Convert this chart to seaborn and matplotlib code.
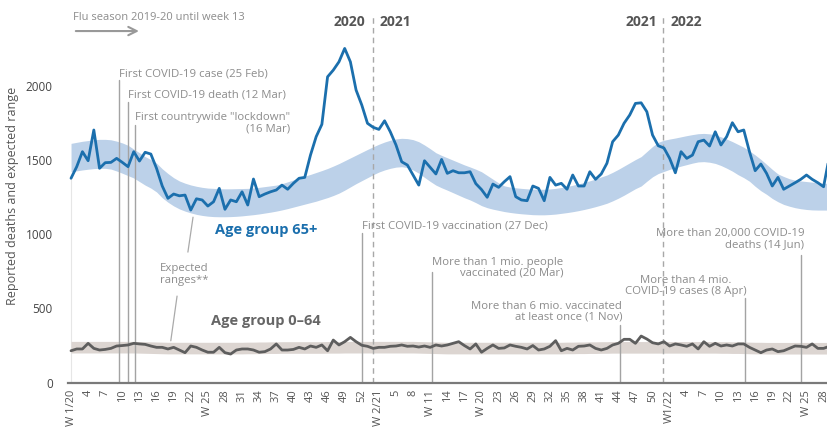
import numpy as np
import pandas as pd
import matplotlib
matplotlib.use("Agg")
import matplotlib.pyplot as plt
import seaborn as sns

# weekly index: 0 = W1/2020, 53 = W1/2021, 105 = W1/2022
deaths_65 = [
    1376, 1454, 1555, 1494, 1701, 1443, 1481, 1483, 1510, 1483,
    1454, 1555, 1492, 1551, 1539, 1443, 1324, 1241, 1270, 1258,
    1263, 1162, 1238, 1230, 1189, 1218, 1308, 1167, 1230, 1218,
    1285, 1196, 1371, 1252, 1270, 1285, 1297, 1330, 1302, 1342,
    1376, 1382, 1532, 1656, 1739, 2059, 2104, 2160, 2250, 2160,
    1970, 1869, 1746, 1719, 1705, 1763, 1689, 1600, 1487, 1465,
    1398, 1330, 1494, 1450, 1405, 1503, 1409, 1427, 1413, 1413,
    1420, 1340, 1300, 1248, 1337, 1315, 1353, 1387, 1252, 1230,
    1225, 1324, 1308, 1225, 1382, 1330, 1342, 1302, 1398, 1324,
    1324, 1420, 1369, 1405, 1477, 1622, 1667, 1746, 1802, 1880,
    1884, 1824, 1667, 1595, 1580, 1510, 1413, 1555, 1510, 1532,
    1622, 1633, 1593, 1689, 1600, 1656, 1750, 1689, 1701, 1555,
    1427, 1472, 1409, 1324, 1382, 1302, 1324, 1346, 1369, 1398,
    1369, 1346, 1319, 1520,
]
exp65_upper = [
    1611, 1618, 1625, 1630, 1635, 1638, 1638, 1635, 1626, 1614,
    1598, 1572, 1548, 1522, 1502, 1478, 1440, 1408, 1380, 1358,
    1343, 1331, 1322, 1315, 1310, 1308, 1306, 1305, 1305, 1306,
    1307, 1308, 1311, 1315, 1320, 1325, 1330, 1340, 1352, 1365,
    1378, 1390, 1402, 1415, 1428, 1442, 1458, 1475, 1494, 1513,
    1532, 1551, 1570, 1588, 1605, 1620, 1632, 1641, 1645, 1643,
    1636, 1622, 1600, 1575, 1548, 1530, 1514, 1498, 1482, 1466,
    1452, 1437, 1420, 1395, 1370, 1345, 1325, 1317, 1312, 1308,
    1305, 1303, 1302, 1302, 1304, 1308, 1314, 1321, 1329, 1338,
    1348, 1359, 1371, 1385, 1398, 1416, 1436, 1458, 1480, 1502,
    1522, 1556, 1590, 1618, 1632, 1640, 1647, 1655, 1663, 1670,
    1676, 1678, 1675, 1668, 1655, 1640, 1623, 1604, 1585, 1560,
    1533, 1503, 1470, 1436, 1405, 1388, 1373, 1363, 1358, 1354,
    1350, 1346, 1343, 1341,
]
exp65_lower = [
    1420, 1426, 1432, 1437, 1441, 1443, 1443, 1438, 1425, 1410,
    1394, 1378, 1354, 1330, 1310, 1284, 1245, 1215, 1190, 1170,
    1155, 1143, 1133, 1126, 1121, 1118, 1117, 1117, 1118, 1120,
    1123, 1127, 1131, 1136, 1142, 1148, 1155, 1163, 1172, 1182,
    1192, 1202, 1212, 1222, 1234, 1246, 1260, 1276, 1296, 1318,
    1340, 1360, 1380, 1400, 1418, 1432, 1443, 1451, 1454, 1448,
    1432, 1410, 1382, 1355, 1330, 1312, 1296, 1279, 1262, 1245,
    1230, 1212, 1192, 1178, 1168, 1160, 1152, 1146, 1141, 1137,
    1134, 1131, 1130, 1130, 1132, 1135, 1140, 1145, 1151, 1158,
    1166, 1175, 1185, 1196, 1208, 1224, 1242, 1262, 1284, 1306,
    1324, 1356, 1386, 1408, 1422, 1436, 1447, 1458, 1468, 1478,
    1486, 1488, 1484, 1476, 1462, 1444, 1424, 1400, 1380, 1356,
    1322, 1292, 1268, 1240, 1218, 1200, 1188, 1178, 1171, 1166,
    1163, 1162, 1162, 1162,
]
deaths_0_64 = [
    215, 227, 227, 265, 231, 220, 224, 231, 247, 250,
    254, 265, 261, 258, 247, 238, 238, 227, 238, 220,
    202, 247, 238, 220, 205, 205, 238, 202, 193, 220,
    227, 227, 220, 205, 209, 227, 261, 220, 220, 224,
    238, 227, 247, 238, 254, 215, 287, 254, 276, 305,
    276, 252, 245, 231, 238, 238, 245, 247, 254, 245,
    247, 240, 247, 238, 254, 247, 254, 265, 276, 250,
    227, 261, 205, 231, 254, 231, 234, 254, 245, 238,
    227, 250, 220, 227, 245, 283, 215, 231, 220, 245,
    247, 254, 231, 220, 231, 254, 265, 292, 292, 265,
    314, 294, 269, 261, 276, 247, 261, 254, 245, 261,
    227, 276, 245, 265, 247, 254, 247, 261, 261, 238,
    220, 202, 220, 227, 209, 215, 231, 247, 245, 238,
    261, 231, 231, 245,
]
exp064_upper = [
    278, 278, 278, 278, 278, 278, 278, 278, 278, 278,
    278, 278, 277, 276, 275, 274, 273, 272, 272, 272,
    272, 272, 272, 272, 272, 272, 272, 272, 272, 272,
    272, 273, 273, 274, 274, 275, 275, 276, 276, 276,
    276, 276, 276, 276, 276, 277, 277, 277, 278, 278,
    278, 278, 278, 278, 278, 278, 278, 278, 278, 278,
    278, 277, 276, 275, 274, 273, 272, 272, 272, 272,
    272, 272, 272, 272, 272, 272, 272, 272, 272, 272,
    272, 272, 272, 272, 272, 272, 272, 273, 273, 274,
    274, 275, 275, 276, 276, 277, 277, 277, 277, 277,
    277, 277, 277, 277, 277, 277, 277, 277, 277, 277,
    277, 277, 277, 277, 276, 276, 275, 275, 274, 273,
    272, 272, 271, 271, 271, 271, 271, 271, 271, 271,
    271, 271, 271, 271,
]
exp064_lower = [
    200, 200, 200, 200, 200, 200, 200, 200, 200, 200,
    200, 200, 199, 198, 197, 196, 195, 194, 194, 194,
    194, 194, 194, 194, 194, 194, 194, 194, 194, 194,
    194, 195, 195, 196, 196, 197, 197, 198, 198, 198,
    198, 198, 198, 198, 198, 199, 199, 199, 200, 200,
    200, 200, 200, 200, 200, 200, 200, 200, 200, 200,
    200, 199, 198, 197, 196, 195, 194, 194, 194, 194,
    194, 194, 194, 194, 194, 194, 194, 194, 194, 194,
    194, 194, 194, 194, 194, 194, 194, 195, 195, 196,
    196, 197, 197, 198, 198, 199, 199, 199, 199, 199,
    199, 199, 199, 199, 199, 199, 199, 199, 199, 199,
    199, 199, 199, 199, 198, 198, 197, 197, 196, 195,
    194, 194, 193, 193, 193, 193, 193, 193, 193, 193,
    193, 193, 193, 193,
]
tick_labels = [
    "W 1/20", "4", "7", "10", "13", "16", "19", "22", "W 25", "28", "31",
    "34", "37", "40", "43", "46", "49", "52",
    "W 2/21", "5", "8", "W 11", "14", "17", "W 20", "23", "26", "29", "32",
    "35", "38", "41", "44", "47", "50",
    "W1/22", "4", "7", "10", "13", "16", "19", "22", "W 25", "28",
]

df = pd.DataFrame({
    "week": np.arange(len(deaths_65)),
    "d65": deaths_65, "u65": exp65_upper, "l65": exp65_lower,
    "d064": deaths_0_64, "u064": exp064_upper, "l064": exp064_lower,
})

sns.set_theme(style="white")
plt.rcParams["font.family"] = ["Open Sans", "DejaVu Sans"]

BLUE = "#1b6fad"
GREY_TXT = "#8c8c8c"
EV_LINE = "#a3a3a3"

fig = plt.figure(figsize=(8.27, 4.29), dpi=100)
ax = fig.add_axes([68 / 827, 46.3 / 429, 1 - 68 / 827, 1 - 46.3 / 429])

# expected ranges
ax.fill_between(df["week"], df["l65"], df["u65"], color="#bcd1e9", lw=0, zorder=1)
ax.fill_between(df["week"], df["l064"], df["u064"], color="#dcd5d1", lw=0, zorder=1)

# event lines
events = [
    (8.4, 2040), (10.0, 1891), (11.2, 1735), (51.05, 1008),
    (63.3, 748), (96.3, 386), (118.2, 568), (128.0, 859),
]
for ex, top in events:
    ax.plot([ex, ex], [0, top], color=EV_LINE, lw=1.0, zorder=2)
ax.plot([0, 0], [0, 1376], color="#e6e6e6", lw=0.8, zorder=0)

# year change lines
for yx in (52.9, 103.9):
    ax.plot([yx, yx], [0, 2462], color="#a8a8a8", lw=1.0, ls=(0, (4, 3)), zorder=2)

sns.lineplot(data=df, x="week", y="d65", ax=ax, color=BLUE, lw=2.0, zorder=4)
sns.lineplot(data=df, x="week", y="d064", ax=ax, color="#5e5e5e", lw=2.0, zorder=4)

ax.set_xlim(-0.53, 132.6)
ax.set_ylim(0, 2576)
ax.set_xticks(np.arange(0, 133, 3))
ax.set_xticklabels(tick_labels, rotation=90, fontsize=8, color="#555555")
ax.set_yticks([0, 500, 1000, 1500, 2000])
ax.set_yticklabels(["0", "500", "1000", "1500", "2000"], fontsize=8.5, color="#444444")
ax.tick_params(axis="both", length=0)
ax.tick_params(axis="y", pad=11)
ax.tick_params(axis="x", pad=5)
ax.set_xlabel("")
ax.set_ylabel("")
for s in ("top", "right", "left"):
    ax.spines[s].set_visible(False)
ax.spines["bottom"].set_color("#7a7a7a")
ax.spines["bottom"].set_linewidth(1.6)
ax.set_facecolor("white")

fig.text(13 / 827, 1 - 196 / 429, "Reported deaths and expected range", rotation=90,
         ha="center", va="center", fontsize=9, color="#555555")

# header
ax.text(0.35, 2455, "Flu season 2019-20 until week 13", fontsize=8, color=GREY_TXT,
        ha="left", va="center")
ax.annotate("", xy=(12.4, 2367), xytext=(0.35, 2367),
            arrowprops=dict(arrowstyle="->,head_length=0.5,head_width=0.25",
                            color="#999999", lw=1.5))
ax.text(51.7, 2428, "2020", fontsize=10, fontweight="bold", color="#555555", ha="right", va="center")
ax.text(54.2, 2428, "2021", fontsize=10, fontweight="bold", color="#555555", ha="left", va="center")
ax.text(102.8, 2428, "2021", fontsize=10, fontweight="bold", color="#555555", ha="right", va="center")
ax.text(105.1, 2428, "2022", fontsize=10, fontweight="bold", color="#555555", ha="left", va="center")

# annotations
ax.text(8.4, 2077, "First COVID-19 case (25 Feb)", fontsize=8.2, color=GREY_TXT, ha="left", va="center")
ax.text(10.0, 1936, "First COVID-19 death (12 Mar)", fontsize=8.2, color=GREY_TXT, ha="left", va="center")
ax.text(11.2, 1745, "First countrywide \"lockdown\"\n(16 Mar)", fontsize=8.2, color=GREY_TXT,
        ha="left", va="center", multialignment="right", linespacing=1.0)
ax.text(51.05, 1057, "First COVID-19 vaccination (27 Dec)", fontsize=8.2, color=GREY_TXT,
        ha="left", va="center")
ax.text(63.3, 773, "More than 1 mio. people\nvaccinated (20 Mar)", fontsize=8.2, color=GREY_TXT,
        ha="left", va="center", multialignment="right", linespacing=1.0)
ax.text(96.7, 479, "More than 6 mio. vaccinated\nat least once (1 Nov)", fontsize=8.2, color=GREY_TXT,
        ha="right", va="center", multialignment="right", linespacing=1.0)
ax.text(118.5, 654, "More than 4 mio.\nCOVID-19 cases (8 Apr)", fontsize=8.2, color=GREY_TXT,
        ha="right", va="center", multialignment="center", linespacing=1.0)
ax.text(128.6, 967, "More than 20,000 COVID-19\ndeaths (14 Jun)", fontsize=8.2, color=GREY_TXT,
        ha="right", va="center", multialignment="right", linespacing=1.0)

ax.text(25.3, 1026, "Age group 65+", fontsize=10.5, fontweight="bold", color=BLUE,
        ha="left", va="center")
ax.text(24.6, 416, "Age group 0\u201364", fontsize=10.5, fontweight="bold", color="#666666",
        ha="left", va="center")

ax.text(15.6, 728, "Expected\nranges**", fontsize=8.2, color=GREY_TXT, ha="left", va="center",
        linespacing=1.1)
ax.plot([20.5, 21.4], [879, 1114], color="#aaaaaa", lw=0.9, zorder=3)
ax.plot([18.6, 17.5], [583, 282], color="#aaaaaa", lw=0.9, zorder=3)

fig.savefig("out.png", dpi=100)
